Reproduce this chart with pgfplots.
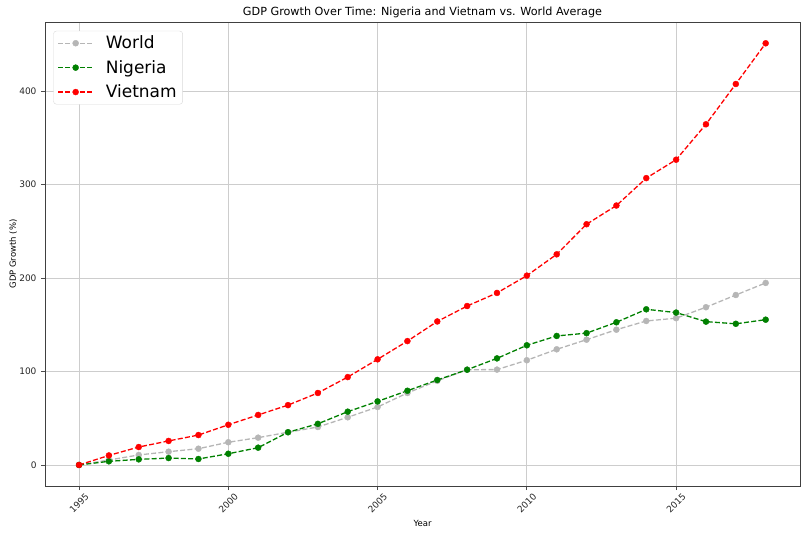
\documentclass[border=0pt]{standalone}
\usepackage{fontspec}
\setmainfont{DejaVu Sans}
\usepackage{pgfplots}
\pgfplotsset{compat=1.18}

\definecolor{worldgray}{RGB}{182,182,182}
\definecolor{nigeriagreen}{RGB}{0,128,0}
\definecolor{vietnamred}{RGB}{255,0,0}
\definecolor{gridgray}{RGB}{205,205,205}

\begin{document}
\begin{tikzpicture}
  % fix the page to the reference proportions (806 x 536)
  \path[use as bounding box] (-45pt,-50pt) rectangle (761pt,486pt);
  \begin{axis}[
      at={(0,0)}, anchor=south west,
      scale only axis,
      width=755pt, height=464pt,
      xmin=1993.86, xmax=2019.15,
      ymin=-22.5, ymax=473.8,
      xtick={1995,2000,2005,2010,2015},
      ytick={0,100,200,300,400},
      xtick pos=bottom, ytick pos=left,
      /pgf/number format/1000 sep={},
      /pgf/number format/assume math mode=true,
      tick label style={font=\fontsize{9}{10}\selectfont, color=black!85},
      % shift first, then rotate, so the shift stays vertical
      xticklabel style={yshift=-13pt, rotate=45, anchor=center},
      yticklabel style={xshift=-1pt},
      tick align=outside,
      major tick length=4pt,
      tick style={black!70, line width=0.8pt},
      axis line style={black!75, line width=0.9pt},
      grid=major,
      major grid style={gridgray, line width=0.8pt},
      title={GDP Growth Over Time: Nigeria and Vietnam vs. World Average},
      title style={font=\fontsize{11.2}{13}\selectfont, at={(0.5,1)}, anchor=center, yshift=4pt},
      xlabel={Year},
      xlabel style={font=\fontsize{8.5}{10}\selectfont, at={(0.5,-0.08)}, anchor=center},
      ylabel={GDP Growth (\%)},
      ylabel style={font=\fontsize{8.5}{10}\selectfont, at={(-0.042,0.5)}, anchor=center},
      legend style={font=\fontsize{17}{20}\selectfont, draw=black!15, rounded corners=3pt,
        at={(0.011,0.981)}, anchor=north west, inner xsep=4pt, inner ysep=3pt,
        row sep=6pt, column sep=10pt},
      legend cell align=left,
      legend image code/.code={
        \draw[#1, mark=none] (0pt,0pt) -- (35pt,0pt);
        \draw[#1, only marks] plot coordinates {(17.5pt,0pt)};
      },
      every axis plot/.append style={line width=1.3pt, dash pattern=on 5pt off 2.3pt,
        mark=*, mark size=3pt, mark options={solid, line width=0.4pt}},
  ]

  % World
  \addplot[color=worldgray] coordinates {
    (1995,0) (1996,5.3) (1997,10.7) (1998,14.2) (1999,17.4) (2000,24.3)
    (2001,29.2) (2002,35) (2003,40.6) (2004,51) (2005,62) (2006,77)
    (2007,90) (2008,101.9) (2009,102) (2010,112) (2011,123.7) (2012,134)
    (2013,144.7) (2014,154) (2015,157) (2016,168.7) (2017,181.8) (2018,194.7)
  };
  \addlegendentry{World}

  % Nigeria
  \addplot[color=nigeriagreen] coordinates {
    (1995,0) (1996,3.9) (1997,6) (1998,7.4) (1999,6.4) (2000,12)
    (2001,18.5) (2002,35) (2003,44) (2004,57) (2005,68) (2006,79.4)
    (2007,90.9) (2008,101.9) (2009,114) (2010,128) (2011,138) (2012,141)
    (2013,152.6) (2014,166.5) (2015,163) (2016,153.3) (2017,151) (2018,155.4)
  };
  \addlegendentry{Nigeria}

  % Vietnam
  \addplot[color=vietnamred] coordinates {
    (1995,0) (1996,10.2) (1997,19.2) (1998,25.7) (1999,32) (2000,43)
    (2001,53.5) (2002,64) (2003,77) (2004,94) (2005,113) (2006,132.5)
    (2007,153.5) (2008,170) (2009,184) (2010,202.5) (2011,225.3) (2012,257.5)
    (2013,277.5) (2014,306.8) (2015,326.5) (2016,364.4) (2017,407.5) (2018,451)
  };
  \addlegendentry{Vietnam}

  \end{axis}
\end{tikzpicture}
\end{document}
